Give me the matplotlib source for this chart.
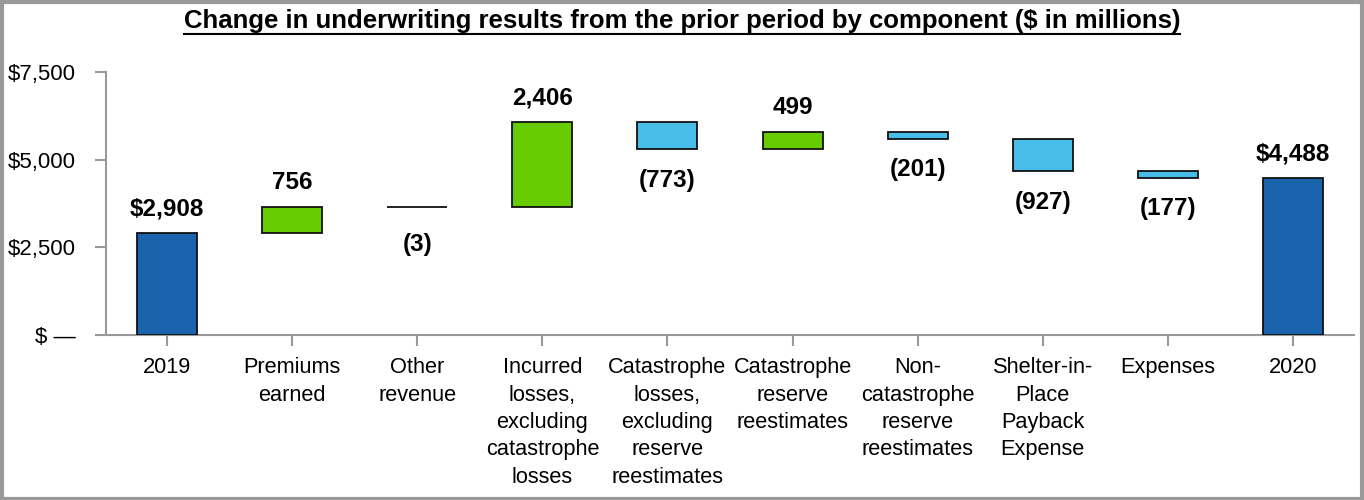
import matplotlib
matplotlib.use("Agg")
import matplotlib.pyplot as plt
from matplotlib.patches import Rectangle
from matplotlib.lines import Line2D
import numpy as np

categories = ["2019", "Premiums\nearned", "Other\nrevenue",
              "Incurred\nlosses,\nexcluding\ncatastrophe\nlosses",
              "Catastrophe\nlosses,\nexcluding\nreserve\nreestimates",
              "Catastrophe\nreserve\nreestimates",
              "Non-\ncatastrophe\nreserve\nreestimates",
              "Shelter-in-\nPlace\nPayback\nExpense",
              "Expenses", "2020"]
start_value = 2908
changes = [756, -3, 2406, -773, 499, -201, -927, -177]
end_value = 4488
value_labels = ["$2,908", "756", "(3)", "2,406", "(773)", "499", "(201)", "(927)", "(177)", "$4,488"]
yticks = [0, 2500, 5000, 7500]
ytick_labels = ["$ \u2014", "$2,500", "$5,000", "$7,500"]
title = "Change in underwriting results from the prior period by component ($ in millions)"

DARK = "#1A64AD"
GREEN = "#66CC00"
LIGHT = "#47BDE8"

plt.rcParams['font.family'] = ['Liberation Sans', 'DejaVu Sans']

fig = plt.figure(figsize=(13.64, 5.0), dpi=100)
ax = fig.add_axes([106/1364, 1-335/500, (1354-106)/1364, (335-72)/500])

x = np.arange(len(categories))
bottoms, heights, colors = [], [], []
bottoms.append(0); heights.append(start_value); colors.append(DARK)
running = start_value
for c in changes:
    if c >= 0:
        bottoms.append(running); heights.append(c); colors.append(GREEN)
    else:
        bottoms.append(running + c); heights.append(-c); colors.append(LIGHT)
    running += c
bottoms.append(0); heights.append(end_value); colors.append(DARK)

ax.bar(x, heights, bottom=bottoms, width=0.48, color=colors,
       edgecolor="#111111", linewidth=1.3, zorder=3)

signs = [1] + [1 if c >= 0 else -1 for c in changes] + [1]
for xi, b, h, s, lab in zip(x, bottoms, heights, signs, value_labels):
    if s > 0:
        ax.annotate(lab, (xi, b + h), xytext=(0, 9), textcoords="offset points",
                    ha="center", va="bottom", fontsize=17.5, fontweight="bold")
    else:
        off = -19 if abs(h) < 10 else -14
        ax.annotate(lab, (xi, b), xytext=(0, off), textcoords="offset points",
                    ha="center", va="top", fontsize=17.5, fontweight="bold")

ax.set_xlim(-0.49, 9.49)
ax.set_ylim(0, 7500)
ax.set_yticks(yticks)
ax.set_yticklabels(ytick_labels)
ax.set_xticks(x)
ax.set_xticklabels(categories, linespacing=1.4)

for sp in ["top", "right"]:
    ax.spines[sp].set_visible(False)
for sp in ["left", "bottom"]:
    ax.spines[sp].set_color("#999999")
    ax.spines[sp].set_linewidth(1.5)
ax.tick_params(axis="y", length=8, width=1.5, color="#999999", pad=14, labelsize=16)
ax.tick_params(axis="x", length=8, width=1.5, color="#999999", pad=8, labelsize=15.7)

t = fig.text(0.5, 1-21/500, title, ha="center", va="center", fontsize=18.5, fontweight="bold")
fig.canvas.draw()
bb = t.get_window_extent()
fig.add_artist(Line2D([bb.x0 / fig.bbox.width, bb.x1 / fig.bbox.width],
                      [(bb.y0 - 1) / fig.bbox.height] * 2,
                      transform=fig.transFigure, color="black", linewidth=1.5))

fig.add_artist(Rectangle((0.0015, 0.003), 0.997, 0.994, transform=fig.transFigure,
                         fill=False, edgecolor="#999999", linewidth=3))

fig.savefig("out.png", dpi=100)
